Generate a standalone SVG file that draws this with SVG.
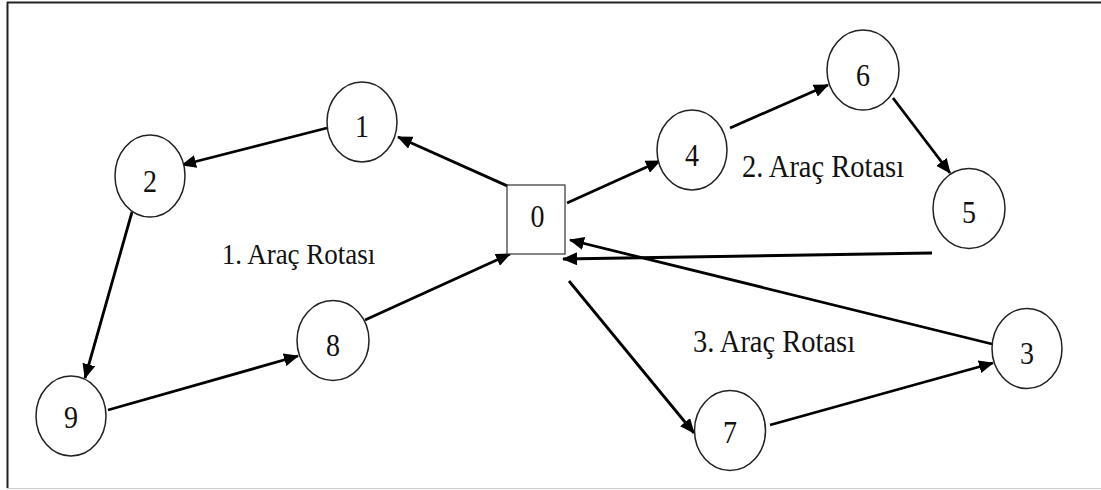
<svg xmlns="http://www.w3.org/2000/svg" width="1101" height="490" viewBox="0 0 1101 490">
<style>
.node ellipse{fill:#fff;stroke:#222;stroke-width:1.5}
.node rect{fill:#fff;stroke:#333;stroke-width:1.2}
.num{font-size:28px;fill:#111;text-anchor:middle}
.lbl{font-size:28.5px;fill:#111;text-anchor:middle}
#edges line{stroke:#000;stroke-width:2.8;marker-end:url(#arr)}
</style>
<defs>
<marker id="arr" markerUnits="userSpaceOnUse" markerWidth="15" markerHeight="13" refX="14" refY="6.5" orient="auto">
<path d="M0,0 L15,6.5 L0,13 z" fill="#000"/>
</marker>
</defs>
<rect x="0" y="0" width="1101" height="490" fill="#fff"/>
<g id="frame">
<line x1="7" y1="2.5" x2="1101" y2="2.5" stroke="#222" stroke-width="2"/>
<line x1="7.5" y1="2" x2="7.5" y2="488" stroke="#222" stroke-width="2"/>
<line x1="7" y1="488.5" x2="1101" y2="488.5" stroke="#ccc" stroke-width="1"/>
</g>
<g id="edges">
<line x1="512" y1="188" x2="398" y2="137"/>
<line x1="327" y1="128" x2="182" y2="165"/>
<line x1="132" y1="212" x2="85" y2="378"/>
<line x1="108" y1="410" x2="298" y2="356"/>
<line x1="365" y1="320" x2="510" y2="254"/>
<line x1="567" y1="203" x2="660" y2="161"/>
<line x1="730" y1="128" x2="828" y2="85"/>
<line x1="893" y1="98" x2="950" y2="173"/>
<line x1="932" y1="253" x2="563" y2="259"/>
<line x1="992" y1="344" x2="570" y2="240"/>
<line x1="569" y1="281" x2="694" y2="433"/>
<line x1="770" y1="425" x2="993" y2="363"/>
</g>
<g font-family="Liberation Serif, DejaVu Serif, serif">
<g id="n0" class="node"><rect x="507" y="185" width="58" height="69"/><text class="num" transform="translate(537.5,227) scale(1,1.16)">0</text></g>
<g id="n1" class="node"><ellipse cx="362" cy="122" rx="35" ry="40"/><text class="num" transform="translate(362,137) scale(1,1.16)">1</text></g>
<g id="n2" class="node"><ellipse cx="150" cy="176" rx="35" ry="41"/><text class="num" transform="translate(150,191.5) scale(1,1.16)">2</text></g>
<g id="n3" class="node"><ellipse cx="1027" cy="348.5" rx="35" ry="40"/><text class="num" transform="translate(1027,363.5) scale(1,1.16)">3</text></g>
<g id="n4" class="node"><ellipse cx="692" cy="150" rx="35" ry="40"/><text class="num" transform="translate(692,165.5) scale(1,1.16)">4</text></g>
<g id="n5" class="node"><ellipse cx="969" cy="208.5" rx="36" ry="40"/><text class="num" transform="translate(969,223) scale(1,1.16)">5</text></g>
<g id="n6" class="node"><ellipse cx="863" cy="70" rx="36" ry="40"/><text class="num" transform="translate(863,86) scale(1,1.16)">6</text></g>
<g id="n7" class="node"><ellipse cx="730" cy="430.5" rx="35.5" ry="40"/><text class="num" transform="translate(730,443) scale(1,1.16)">7</text></g>
<g id="n8" class="node"><ellipse cx="333" cy="340.5" rx="36" ry="40"/><text class="num" transform="translate(333,356) scale(1,1.16)">8</text></g>
<g id="n9" class="node"><ellipse cx="71" cy="416" rx="35" ry="40"/><text class="num" transform="translate(71,428) scale(1,1.16)">9</text></g>
<g id="labels">
<text class="lbl" style="font-size:27px" transform="translate(298.5,264) scale(1,1.12)">1. Araç Rotası</text>
<text class="lbl" transform="translate(823,177) scale(1,1.08)">2. Araç Rotası</text>
<text class="lbl" transform="translate(774,352) scale(1,1.08)">3. Araç Rotası</text>
</g>
</g>
</svg>
